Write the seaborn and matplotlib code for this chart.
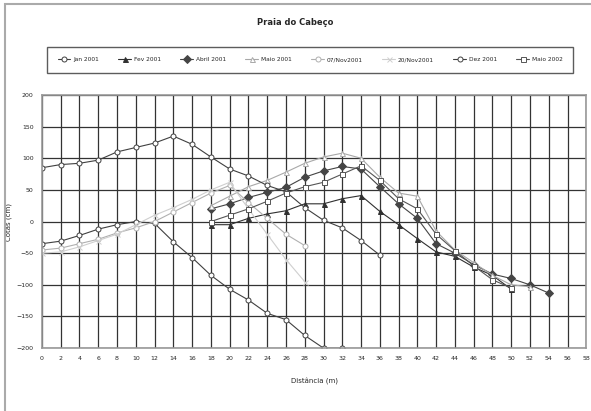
import pandas as pd
import seaborn as sns
import matplotlib.pyplot as plt
from matplotlib.patches import Rectangle

# distances (m) and heights (cm)
dist_a = [0, 2, 4, 6, 8, 10, 12, 14, 16, 18, 20, 22, 24, 26, 28, 30, 32]
jan_2001 = [-35, -31, -22, -12, -5, 0, -3, -32, -57, -85, -107, -124, -145, -155, -180, -200, -200]

dist_b = [18, 20, 22, 24, 26, 28, 30, 32, 34, 36, 38, 40, 42, 44, 46, 48, 50]
fev_2001 = [-5, -5, 5, 12, 17, 28, 28, 36, 41, 16, -5, -27, -48, -55, -72, -85, -107]

dist_c = [18, 20, 22, 24, 26, 28, 30, 32, 34, 36, 38, 40, 42, 44, 46, 48, 50, 52, 54]
abril_2001 = [20, 28, 38, 46, 54, 70, 80, 87, 83, 55, 28, 5, -35, -50, -68, -83, -90, -100, -113]

dist_d = [18, 20, 22, 24, 26, 28, 30, 32, 34, 36, 38, 40, 42, 44, 46, 48, 50, 52]
maio_2001 = [25, 40, 55, 65, 78, 92, 102, 108, 100, 70, 45, 40, -15, -45, -65, -85, -100, -103]

dist_e = [0, 2, 4, 6, 8, 10, 12, 14, 16, 18, 20, 22, 24, 26, 28]
nov07_2001 = [-45, -42, -35, -28, -18, -10, 0, 15, 30, 45, 57, 30, 5, -20, -38]
nov20_2001 = [-50, -48, -40, -30, -20, -5, 10, 22, 35, 50, 62, 20, -20, -60, -95]

dist_f = [0, 2, 4, 6, 8, 10, 12, 14, 16, 18, 20, 22, 24, 26, 28, 30, 32, 34, 36]
dez_2001 = [85, 90, 92, 97, 110, 117, 124, 135, 122, 102, 83, 72, 57, 47, 22, 2, -10, -30, -53]

dist_g = [18, 20, 22, 24, 26, 28, 30, 32, 34, 36, 38, 40, 42, 44, 46, 48, 50]
maio_2002 = [0, 10, 20, 32, 45, 55, 62, 75, 88, 65, 36, 20, -20, -46, -70, -92, -105]

names = ['Jan 2001', 'Fev 2001', 'Abril 2001', 'Maio 2001',
         '07/Nov2001', '20/Nov2001', 'Dez 2001', 'Maio 2002']
series = [(dist_a, jan_2001), (dist_b, fev_2001), (dist_c, abril_2001), (dist_d, maio_2001),
          (dist_e, nov07_2001), (dist_e, nov20_2001), (dist_f, dez_2001), (dist_g, maio_2002)]

rows = []
for name, (xs, ys) in zip(names, series):
    for x, y in zip(xs, ys):
        rows.append({'serie': name, 'dist': x, 'cota': y})
df = pd.DataFrame(rows)

colors = {'Jan 2001': '#404040', 'Fev 2001': '#303030', 'Abril 2001': '#454545',
          'Maio 2001': '#a8a8a8', '07/Nov2001': '#b0b0b0', '20/Nov2001': '#cfcfcf',
          'Dez 2001': '#404040', 'Maio 2002': '#555555'}
marks = {'Jan 2001': 'o', 'Fev 2001': '^', 'Abril 2001': 'D', 'Maio 2001': '^',
         '07/Nov2001': 'o', '20/Nov2001': 'x', 'Dez 2001': 'o', 'Maio 2002': 's'}
fills = {'Jan 2001': 'white', 'Fev 2001': '#303030', 'Abril 2001': '#454545',
         'Maio 2001': 'white', '07/Nov2001': 'white', '20/Nov2001': '#cfcfcf',
         'Dez 2001': 'white', 'Maio 2002': 'white'}

sns.set_style('white')
plt.rcParams['font.family'] = ['DejaVu Sans']

fig = plt.figure(figsize=(5.91, 4.11), dpi=100)
ax = fig.add_axes([0.071, 0.153, 0.921, 0.616])

for name in names:
    sub = df[df['serie'] == name]
    sns.lineplot(data=sub, x='dist', y='cota', ax=ax, color=colors[name],
                 marker=marks[name], markersize=3.6, markerfacecolor=fills[name],
                 markeredgecolor=colors[name], markeredgewidth=0.7,
                 linewidth=0.8, label=name, legend=False)

ax.set_xlim(0, 58)
ax.set_ylim(-200, 200)
ax.set_xticks(range(0, 59, 2))
ax.set_yticks(range(-200, 201, 50))
ax.grid(True, color='#333333', linewidth=0.9)
ax.set_axisbelow(True)
ax.tick_params(labelsize=4.5, length=0, pad=6)
for s in ax.spines.values():
    s.set_color('#999999')
    s.set_linewidth(1.2)
ax.set_xlabel('Distância (m)', fontsize=5, labelpad=12)
ax.set_ylabel('Cotas (cm)', fontsize=5)
ax.yaxis.set_label_coords(-0.055, 0.5)

handles, labels = ax.get_legend_handles_labels()
leg = fig.legend(handles, labels, loc='center', ncol=8, fontsize=4.2,
                 bbox_to_anchor=(0.525, 0.855), frameon=True, fancybox=False,
                 borderpad=1.8, columnspacing=3.3, handlelength=2.2, handletextpad=0.5)
leg.get_frame().set_edgecolor('#333333')
leg.get_frame().set_linewidth(1.0)

fig.text(0.5, 0.945, 'Praia do Cabeço', ha='center', va='center', fontsize=6, fontweight='bold')
fig.patches.append(Rectangle((0.008, -0.05), 1.1, 1.04, transform=fig.transFigure,
                             fill=False, edgecolor='#aaaaaa', linewidth=1.5))

fig.savefig('out.png', dpi=100)
